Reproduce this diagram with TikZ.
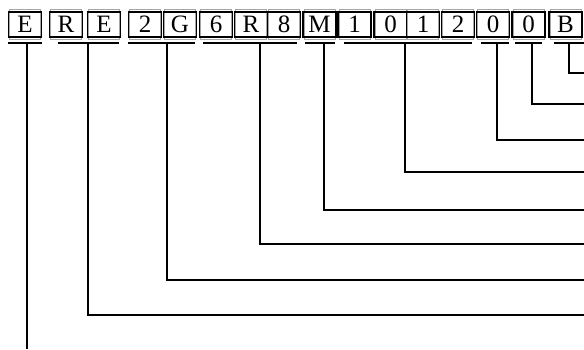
\documentclass[tikz,border=0pt]{standalone}
\usepackage{fontspec}
\setmainfont{Liberation Serif}
\begin{document}
\begin{tikzpicture}[x=1pt,y=-1pt,
  box/.style={draw, line width=1.4pt, minimum width=33pt, minimum height=25pt, inner sep=0pt, font=\fontsize{25}{25}\selectfont,
    append after command={\pgfextra{\draw[gray!70, line width=0.5pt]
      ([shift={(1.6pt,-1.6pt)}]\tikzlastnode.south west) rectangle ([shift={(-1.6pt,1.6pt)}]\tikzlastnode.north east);}}},
  wire/.style={line width=1.4pt}]
\useasboundingbox (0,0) rectangle (584,349);
% boxes
\foreach \n/\x/\t in {1/25/E,2/66/R,3/104/E,4/145/2,5/180/G,6/216/6,7/251/R,8/284/8,9/319.5/M,10/354.5/1,11/390.5/0,12/423/1,13/458/2,14/493/0,15/528.5/0,16/565.5/B}
  \node[box] (b\n) at (\x,24.5) {\t};
% group underlines: left end, right end, tap
\foreach \g/\l/\r/\v in {1/8/42/27,2/58/119/88,3/128/195/167,4/203/297/260,5/305/335/324,6/344/472/405,7/481/509/497,8/515/542/532,9/554/584/569}{
  \coordinate (ul\g) at (\l,43);
  \coordinate (ur\g) at (\r,43);
  \coordinate (v\g) at (\v,43);
  \draw[wire] (ul\g) -- (ur\g);
}
% ends of the leads
\coordinate (e1) at (27,349);
\foreach \g/\y in {2/315,3/280,4/244,5/210,6/172,7/140,8/104,9/73}
  \coordinate (e\g) at (584,\y);
\draw[wire] (v1) -- (e1);
\foreach \g in {2,...,9}
  \draw[wire] (v\g) |- (e\g);
\end{tikzpicture}
\end{document}
